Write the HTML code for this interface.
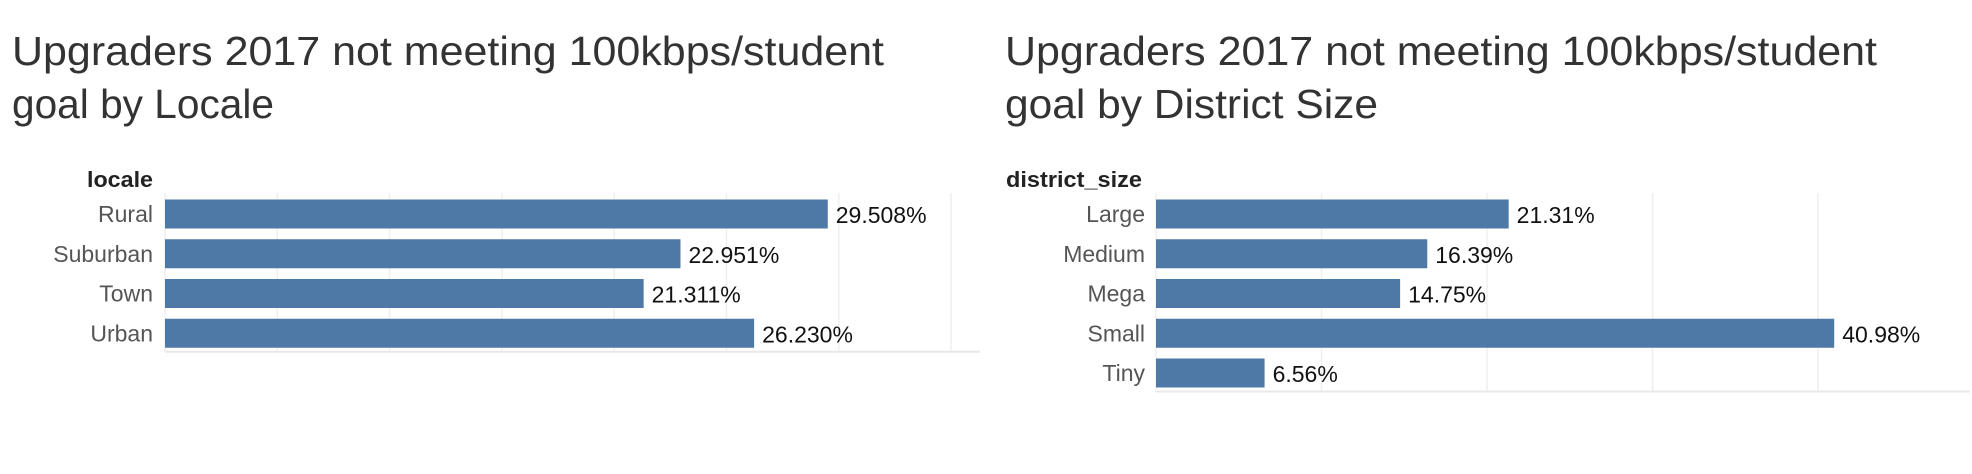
<!DOCTYPE html>
<html><head><meta charset="utf-8"><style>
html,body{margin:0;padding:0;background:#fff;}
svg{display:block;font-family:"Liberation Sans",sans-serif;}
</style></head><body>
<svg id="chart" width="1972" height="474" viewBox="0 0 1972 474" xmlns="http://www.w3.org/2000/svg">
<text x="12" y="65" font-size="41" fill="#333" textLength="872" lengthAdjust="spacingAndGlyphs">Upgraders 2017 not meeting 100kbps/student</text>
<text x="12" y="118" font-size="41" fill="#333" textLength="262" lengthAdjust="spacingAndGlyphs">goal by Locale</text>
<text x="1005" y="65" font-size="41" fill="#333" textLength="872" lengthAdjust="spacingAndGlyphs">Upgraders 2017 not meeting 100kbps/student</text>
<text x="1005" y="118" font-size="41" fill="#333" textLength="373" lengthAdjust="spacingAndGlyphs">goal by District Size</text>
<text x="153" y="187" font-size="22" font-weight="bold" fill="#222" text-anchor="end" textLength="66" lengthAdjust="spacingAndGlyphs">locale</text>
<text x="1006" y="187" font-size="22" font-weight="bold" fill="#222" textLength="136" lengthAdjust="spacingAndGlyphs">district_size</text>
<g id="left"></g><g id="right"></g>
</svg>
<script>
const localeCats = ["Rural","Suburban","Town","Urban"];
const localeVals = [29.508,22.951,21.311,26.230];
const localeLabels = ["29.508%","22.951%","21.311%","26.230%"];
const sizeCats = ["Large","Medium","Mega","Small","Tiny"];
const sizeVals = [21.31,16.39,14.75,40.98,6.56];
const sizeLabels = ["21.31%","16.39%","14.75%","40.98%","6.56%"];
const leftTicks = [0,5,10,15,20,25,30,35];
const rightTicks = [0,10,20,30,40];
const NS="http://www.w3.org/2000/svg";
function mk(tag,attrs,parent){const e=document.createElementNS(NS,tag);for(const k in attrs)e.setAttribute(k,attrs[k]);parent.appendChild(e);return e;}
function draw(g,cats,vals,labels,ticks,x0,pxPer,lineEnd,labelX,prefix){
  const top=193, pitch=39.75, first=214, bh=29;
  const bottom=first+pitch*(cats.length-1)+bh/2+4;
  const xs=v=>x0+v*pxPer;
  ticks.forEach(t=>{
    const l=mk('line',{x1:xs(t),x2:xs(t),y1:top,y2:bottom,stroke:'#efefef','stroke-width':1.5},g);
    
    
  });
  const ax=mk('line',{x1:x0,x2:lineEnd,y1:bottom,y2:bottom,stroke:'#e8e8e8','stroke-width':2},g);
  
  
  cats.forEach((c,i)=>{
    const cy=first+pitch*i;
    const r=mk('rect',{x:x0,y:cy-bh/2,width:xs(vals[i])-x0,height:bh,fill:'#4e79a7'},g);
    
    
    const t=mk('text',{x:labelX,y:cy+8,'font-size':23,fill:'#555','text-anchor':'end'},g);
    t.textContent=c;
    
    
    const v=mk('text',{x:xs(vals[i])+8,y:cy+9,'font-size':23,fill:'#111'},g);
    v.textContent=labels[i];
    
    
  });
}
draw(document.getElementById('left'),localeCats,localeVals,localeLabels,leftTicks,165,22.46,980,153,'locale');
draw(document.getElementById('right'),sizeCats,sizeVals,sizeLabels,rightTicks,1156,16.55,1970,1145,'size');
</script>
</body></html>
